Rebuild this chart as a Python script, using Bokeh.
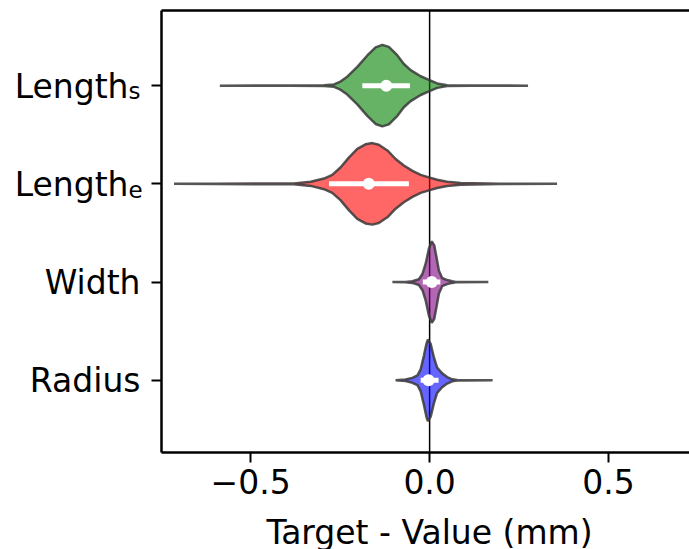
from bokeh.plotting import figure
from bokeh.layouts import row, column
from bokeh.models import FixedTicker, LinearAxis, Range1d, Span
from bokeh.core.properties import value
from bokeh.embed import file_html
from bokeh.resources import INLINE

# Categories from bottom (y = 0) to top (y = 3)
categories = ["Radius", "Width", "Length_e", "Length_s"]
label_main = ["Radius", "Width", "Length", "Length"]
label_sub = ["", "", "e", "s"]
fill_colors = ["blue", "purple", "red", "green"]
x_ticks = [-0.5, 0.0, 0.5]
x_tick_labels = ["−0.5", "0.0", "0.5"]
x_title = "Target - Value (mm)"

# Violin outlines: error positions (mm) and relative density (peak = 1)
radius_x = [-0.095, -0.067, -0.048, -0.034, -0.025, -0.016, -0.009, -0.005, 0.003,
            0.012, 0.021, 0.035, 0.049, 0.063, 0.077, 0.101, 0.176]
radius_d = [0.0, 0.02, 0.06, 0.12, 0.27, 0.60, 0.89, 1.0, 0.89,
            0.56, 0.31, 0.17, 0.08, 0.025, 0.005, 0.003, 0.0]

width_x = [-0.104, -0.067, -0.048, -0.030, -0.020, -0.011, -0.002, 0.006, 0.013,
           0.020, 0.026, 0.035, 0.049, 0.063, 0.073, 0.164]
width_d = [0.0, 0.005, 0.02, 0.07, 0.20, 0.45, 0.82, 1.0, 0.90,
           0.57, 0.28, 0.10, 0.05, 0.02, 0.005, 0.0]

length_e_x = [-0.714, -0.600, -0.472, -0.379, -0.332, -0.295, -0.272, -0.249, -0.225,
              -0.202, -0.179, -0.160, -0.142, -0.118, -0.095, -0.072, -0.048, -0.025,
              -0.002, 0.021, 0.049, 0.087, 0.198, 0.356]
length_e_d = [0.0, 0.005, 0.008, 0.008, 0.05, 0.13, 0.22, 0.40, 0.65,
              0.86, 0.97, 1.0, 0.96, 0.82, 0.61, 0.45, 0.32, 0.22,
              0.16, 0.10, 0.05, 0.02, 0.005, 0.0]

length_s_x = [-0.586, -0.450, -0.388, -0.295, -0.267, -0.249, -0.230, -0.202, -0.174,
              -0.151, -0.132, -0.114, -0.090, -0.072, -0.053, -0.025, -0.002, 0.021,
              0.049, 0.115, 0.275]
length_s_d = [0.0, 0.005, 0.005, 0.01, 0.03, 0.10, 0.22, 0.46, 0.74,
              0.94, 1.0, 0.95, 0.74, 0.53, 0.38, 0.23, 0.14, 0.055,
              0.01, 0.005, 0.0]

# Quartiles per category (same order as categories)
q1 = [-0.025, -0.019, -0.281, -0.188]
median = [-0.003, 0.006, -0.170, -0.121]
q3 = [0.025, 0.030, -0.058, -0.055]

profiles = [(radius_x, radius_d), (width_x, width_d),
            (length_e_x, length_e_d), (length_s_x, length_s_d)]

FONT = "DejaVu Sans"
FONT_SIZE = "33px"
SUB_SIZE = "23px"
HALF_WIDTH = 0.415

TOTAL_W, TOTAL_H = 689, 549
LABEL_W = 147          # width of the category-label strip on the left
TICK_BORDER = 14       # room for the y tick marks
BORDER_TOP = 10
FRAME_H = 442          # plotting-area height
BORDER_BOTTOM = 62     # x ticks and tick labels
TOP_H = BORDER_TOP + FRAME_H + BORDER_BOTTOM
TITLE_H = TOTAL_H - TOP_H

Y_START, Y_END = -0.735, 3.765
PX_PER_Y = FRAME_H / (Y_END - Y_START)
y_range = Range1d(Y_START, Y_END)
x_range = Range1d(-0.749, 0.726)


def plain(fig):
    fig.outline_line_color = None
    fig.xgrid.visible = False
    fig.ygrid.visible = False
    fig.background_fill_color = "white"
    fig.border_fill_color = "white"


p = figure(width=TOTAL_W - LABEL_W, height=TOP_H, output_backend="svg",
           toolbar_location=None, x_range=x_range, y_range=y_range,
           x_axis_location=None, y_axis_location=None,
           min_border_left=TICK_BORDER, min_border_right=0,
           min_border_top=BORDER_TOP, min_border_bottom=BORDER_BOTTOM)
plain(p)

# zero reference line
p.add_layout(Span(location=0, dimension="height", line_color="black",
                  line_width=1.5, level="underlay"))

for i, ((xs, ds), col) in enumerate(zip(profiles, fill_colors)):
    upper = [i + HALF_WIDTH * d for d in ds]
    lower = [i - HALF_WIDTH * d for d in ds]
    p.patch(xs + xs[::-1], upper + lower[::-1], fill_color=col, fill_alpha=0.6,
            line_color="#383838", line_alpha=0.85, line_width=2.5)

ys = list(range(len(categories)))
p.segment(x0=q1, y0=ys, x1=q3, y1=ys, line_color="white", line_width=5)
p.scatter(x=median, y=ys, size=12, fill_color="white", line_color=None)

# axes
xaxis = LinearAxis(ticker=FixedTicker(ticks=x_ticks))
xaxis.major_label_overrides = dict(zip(x_ticks, x_tick_labels))
yaxis = LinearAxis(ticker=FixedTicker(ticks=ys))
yaxis.major_label_overrides = {i: "" for i in ys}  # names live in the label strip
for ax in (xaxis, yaxis):
    ax.axis_line_width = 2.5
    ax.axis_line_color = "black"
    ax.major_tick_line_width = 2
    ax.major_tick_line_color = "black"
    ax.major_tick_out = 10
    ax.major_tick_in = 0
    ax.minor_tick_out = 0
    ax.minor_tick_in = 0
    ax.major_label_text_font = FONT
    ax.major_label_text_font_size = FONT_SIZE
    ax.major_label_text_color = "black"
yaxis.major_label_standoff = 0
xaxis.major_label_standoff = 6
p.add_layout(xaxis, "below")
p.add_layout(yaxis, "left")

top = LinearAxis(ticker=FixedTicker(ticks=[]), axis_line_width=2.5,
                 axis_line_color="black", major_tick_out=0, minor_tick_out=0,
                 major_label_text_font_size="0px")
p.add_layout(top, "above")

# category-label strip, sharing the y range; x is measured in pixels
lab = figure(width=LABEL_W, height=TOP_H, output_backend="svg",
             toolbar_location=None, x_range=Range1d(0, LABEL_W), y_range=y_range,
             x_axis_location=None, y_axis_location=None,
             min_border_left=0, min_border_right=0,
             min_border_top=BORDER_TOP, min_border_bottom=BORDER_BOTTOM)
plain(lab)

PLAIN_EDGE = 140   # right edge of unsubscripted names
SUB_EDGE = 128     # where "Length" ends and its subscript begins
BASE_DROP = 0.5    # text anchor below the tick, px
SUB_DROP = 5.5     # subscript anchor below the tick, px
main_x = [PLAIN_EDGE if not s else SUB_EDGE for s in label_sub]
lab.text(x=main_x, y=[i - BASE_DROP / PX_PER_Y for i in ys], text=label_main,
         text_align="right", text_baseline="alphabetic", text_font=value(FONT),
         text_font_size=value(FONT_SIZE), text_color="black")
sub_rows = [i for i, s in enumerate(label_sub) if s]
lab.text(x=[SUB_EDGE] * len(sub_rows), y=[i - SUB_DROP / PX_PER_Y for i in sub_rows],
         text=[label_sub[i] for i in sub_rows], text_align="left",
         text_baseline="alphabetic", text_font=value(FONT),
         text_font_size=value(SUB_SIZE), text_color="black")

# x-axis title strip; coordinates in pixels, sharing the frame's x centre
ttl = figure(width=TOTAL_W, height=TITLE_H, output_backend="svg",
             toolbar_location=None, x_range=Range1d(0, TOTAL_W),
             y_range=Range1d(0, TITLE_H), x_axis_location=None, y_axis_location=None,
             min_border_left=0, min_border_right=0, min_border_top=0,
             min_border_bottom=0)
plain(ttl)
TITLE_CENTER_X = 429
TITLE_ANCHOR_Y = 17   # px above the bottom edge
ttl.text(x=[TITLE_CENTER_X], y=[TITLE_ANCHOR_Y], text=[x_title], text_align="center",
         text_baseline="alphabetic", text_font=value(FONT),
         text_font_size=value(FONT_SIZE), text_color="black")

layout = column(row(lab, p, spacing=0), ttl, spacing=0)
open("out.html", "w").write(file_html(layout, INLINE))
